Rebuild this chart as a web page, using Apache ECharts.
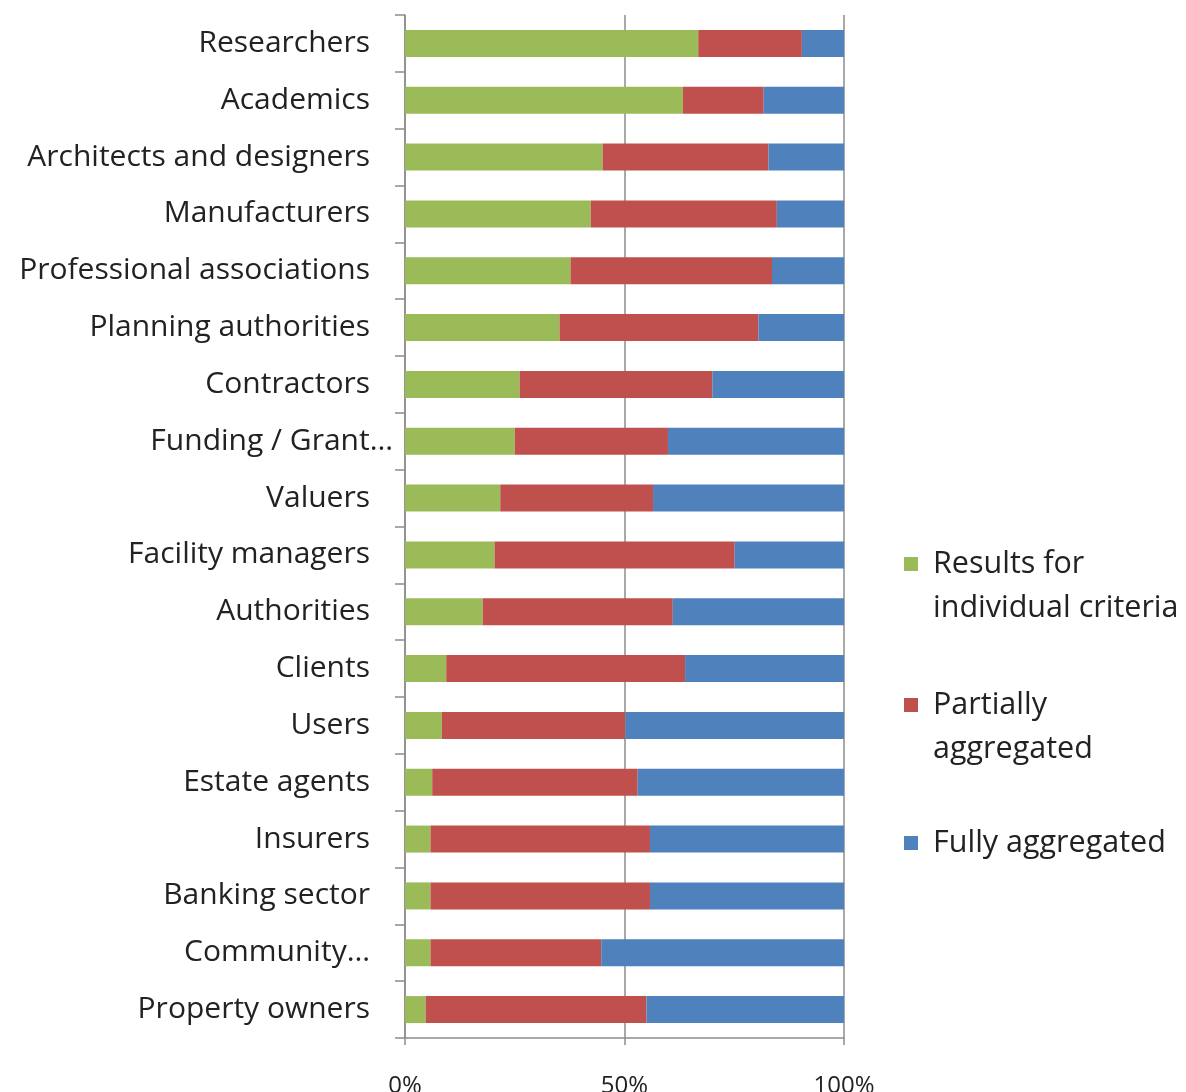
<!DOCTYPE html>
<html>
<head>
<meta charset="utf-8">
<script src="https://cdn.jsdelivr.net/npm/echarts@6/dist/echarts.min.js"></script>
<style>html,body{margin:0;padding:0;background:#fff;}#c{width:1186px;height:1092px;}</style>
</head>
<body>
<div id="c"></div>
<script>
const categories = ["Researchers","Academics","Architects and designers","Manufacturers","Professional associations","Planning authorities","Contractors","Funding / Grant…","Valuers","Facility managers","Authorities","Clients","Users","Estate agents","Insurers","Banking sector","Community…","Property owners"];
const seriesNames = ["Results for individual criteria","Partially aggregated","Fully aggregated"];
const legendLabels = ["Results for\nindividual criteria","Partially\naggregated","Fully aggregated"];
const individual = [66.8,63.3,45.0,42.3,37.7,35.2,26.1,25.0,21.7,20.4,17.7,9.4,8.4,6.2,5.8,5.8,5.8,4.7];
const partial = [23.6,18.4,37.8,42.4,45.9,45.3,43.9,34.9,34.8,54.7,43.3,54.4,41.8,46.8,50.0,50.0,38.9,50.3];
const full = [9.6,18.3,17.2,15.3,16.4,19.5,30.0,40.1,43.5,24.9,39.0,36.2,49.8,47.0,44.2,44.2,55.3,45.0];
const xTicks = [0,50,100];
const colors = ["#9BBB59","#C0504D","#4F81BD"];

const FONT = "Open Sans";
const chart = echarts.init(document.getElementById('c'), null, {renderer:'canvas'});
const values = [individual, partial, full];
const legendTops = [542, 683, 821];
const graphic = [];
seriesNames.forEach((n,i)=>{
  graphic.push({type:'rect', left:904, top:legendTops[i]+15, shape:{width:14,height:14}, style:{fill:colors[i]}});
  graphic.push({type:'text', left:933, top:legendTops[i], style:{text:legendLabels[i], font:'30.5px "'+FONT+'"', fill:'#222', lineHeight:44}});
});
chart.setOption({
  animation:false,
  backgroundColor:'#fff',
  grid:{left:405, right:342, top:15, bottom:54, containLabel:false, outerBoundsMode:'none'},
  xAxis:{type:'value', min:0, max:100, interval:50,
    axisLine:{show:true, lineStyle:{color:'#8c8c8c', width:1.5}},
    axisTick:{show:true, length:7, lineStyle:{color:'#8c8c8c', width:1.5}},
    splitLine:{show:true, lineStyle:{color:'#8c8c8c', width:1.5}},
    axisLabel:{margin:36, color:'#222', fontFamily:FONT, fontSize:24,
      customValues: xTicks, formatter:'{value}%'}
  },
  yAxis:{type:'category', data:categories, inverse:true,
    axisLine:{show:true, lineStyle:{color:'#8c8c8c', width:1.5}},
    axisTick:{show:true, length:10, lineStyle:{color:'#8c8c8c', width:1.5}},
    axisLabel:{margin:12, color:'#222', fontFamily:FONT, fontSize:30,
      formatter:function(v){ return v==='Funding / Grant…' ? '{f|'+v+'}' : '{n|'+v+'}'; },
      rich:{
        f:{fontFamily:FONT, fontSize:30, color:'#222'},
        n:{fontFamily:FONT, fontSize:30, color:'#222', padding:[0,23,0,0]}
      }
    }
  },
  series: seriesNames.map((n,i)=>({
    name:n, type:'bar', stack:'total', data:values[i], barWidth:27,
    itemStyle:{color:colors[i]}
  })),
  graphic: graphic
});
</script>
</body>
</html>
